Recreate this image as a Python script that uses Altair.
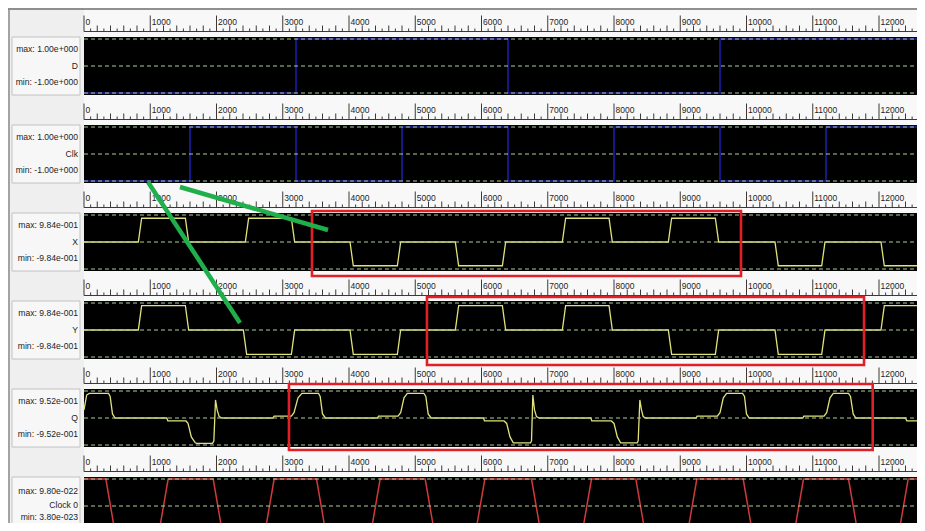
import altair as alt
import pandas as pd

# ---------------- data ----------------
panel_names = ["D", "Clk", "X", "Y", "Q", "Clock 0"]
panel_max_labels = ["max: 1.00e+000", "max: 1.00e+000", "max: 9.84e-001",
                    "max: 9.84e-001", "max: 9.52e-001", "max: 9.80e-022"]
panel_min_labels = ["min: -1.00e+000", "min: -1.00e+000", "min: -9.84e-001",
                    "min: -9.84e-001", "min: -9.52e-001", "min: 3.80e-023"]

T_END = 12694
tick_labels = [0, 1000, 2000, 3000, 4000, 5000, 6000, 7000, 8000, 9000, 10000, 11000, 12000]

# digital signals (step-after), normalised display values (-1 = min, 1 = max)
d_t = [0, 3200, 6400, 9600, T_END]
d_v = [-1, 1, -1, 1, 1]
clk_t = [0, 1600, 3200, 4800, 6400, 8000, 9600, 11200, T_END]
clk_v = [-1, 1, -1, 1, -1, 1, -1, 1, 1]

# analog signals
x_t = [0, 820, 870, 1530, 1580, 2435, 2485, 3130, 3180, 4015, 4065, 4730, 4780, 5605, 5655,
       6315, 6365, 7220, 7270, 7925, 7975, 8820, 8870, 9530, 9580, 10430, 10480, 11135, 11185,
       12030, 12080, T_END]
x_v = [0, 0, .88, .88, 0, 0, .88, .88, 0, 0, -.88, -.88, 0, 0, -.88, -.88, 0, 0, .88, .88,
       0, 0, .88, .88, 0, 0, -.88, -.88, 0, 0, -.88, -.88]

y_t = [0, 820, 870, 1530, 1580, 2405, 2455, 3130, 3180, 4015, 4065, 4730, 4780, 5605, 5655,
       6315, 6365, 7220, 7270, 7925, 7975, 8820, 8870, 9530, 9580, 10430, 10480, 11135, 11185,
       12030, 12080, T_END]
y_v = [0, 0, .9, .9, 0, 0, -.9, -.9, 0, 0, -.9, -.9, 0, 0, .9, .9, 0, 0, .9, .9,
       0, 0, -.9, -.9, 0, 0, -.9, -.9, 0, 0, .9, .9]

q_t = [0, 40, 80, 370, 395, 430, 470, 1250, 1265, 1540, 1570, 1620, 1680, 1700, 1940, 1960,
       1985, 2010, 2040, 2080, 2850, 2870, 3130, 3170, 3230, 3290, 3540, 3565, 3600, 3645,
       4430, 4445, 4740, 4780, 4830, 4880, 5130, 5160, 5195, 5240, 6030, 6045, 6340, 6380,
       6430, 6480, 6740, 6755, 6775, 6800, 6830, 6870, 7650, 7665, 7960, 8000, 8050, 8100,
       8350, 8365, 8390, 8415, 8440, 8480, 9240, 9255, 9560, 9600, 9650, 9700, 9940, 9970,
       10000, 10040, 10850, 10865, 11170, 11210, 11260, 11310, 11540, 11570, 11610, 11650,
       12400, 12420, T_END]
q_v = [0.3, 0.85, 0.91, 0.91, 0.8, 0.15, 0.0, 0.0, -0.11, -0.11, -0.2, -0.7, -0.92, -0.94,
       -0.94, -0.85, 0.67, 0.3, 0.05, 0.0, 0.0, 0.07, 0.07, 0.2, 0.75, 0.91, 0.91, 0.8, 0.15,
       0.0, 0.0, 0.07, 0.07, 0.2, 0.75, 0.91, 0.91, 0.8, 0.15, 0.0, 0.0, -0.11, -0.11, -0.2,
       -0.7, -0.92, -0.92, -0.85, 0.85, 0.3, 0.05, 0.0, 0.0, -0.11, -0.11, -0.2, -0.7, -0.92,
       -0.92, -0.85, 0.67, 0.3, 0.05, 0.0, 0.0, 0.07, 0.07, 0.2, 0.75, 0.91, 0.91, 0.8,
       0.15, 0.0, 0.0, 0.07, 0.07, 0.2, 0.75, 0.91, 0.91, 0.8, 0.15, 0.0,
       0.0, -0.11, -0.11]

clock0_t = [0, 330, 470, 1130, 1270, 1950, 2090, 2730, 2870, 3510, 3650, 4330, 4470, 5150,
            5290, 5910, 6050, 6755, 6895, 7520, 7660, 8330, 8470, 9110, 9250, 9950, 10090,
            10720, 10860, 11540, 11680, 12300, 12440, T_END]
clock0_v = [1, 1, -1, -1, 1, 1, -1, -1, 1, 1, -1, -1, 1, 1, -1, -1, 1, 1, -1, -1, 1, 1,
            -1, -1, 1, 1, -1, -1, 1, 1, -1, -1, 1, 1]

# annotations: red boxes (t start, t end, panel, top value, bottom value)
box_t0 = [3441, 5177, 3094]
box_t1 = [9917, 11774, 11905]
box_panel = [2, 3, 4]
box_vtop = [1.148, 1.222, 1.259]
box_vbot = [-1.26, -1.296, -1.185]

# annotations: green strokes (start t, panel, value) -> (end t, panel, value)
green_t0 = [966, 1449]
green_p0 = [1, 1]
green_v0 = [-1.037, -1.222]
green_t1 = [2355, 3683]
green_p1 = [3, 2]
green_v1 = [0.259, 0.444]

# ---------------- layout helpers ----------------
SLOT = 88 / 27.0   # distance between panel centres, in signal units
PX = 27.0          # pixels per signal unit
W, H = 833, 515
X_MAX = W / 0.06625
Y_TOP = 58 / PX
Y_BOT = -(H - 58) / PX
FONT = "Liberation Sans"


def yg(i, v):
    return v - i * SLOT


xs = alt.Scale(domain=[0, X_MAX], nice=False, zero=False)
ys = alt.Scale(domain=[Y_BOT, Y_TOP], nice=False, zero=False)


def X(f):
    return alt.X(f, type="quantitative", scale=xs, axis=None)


def Y(f):
    return alt.Y(f, type="quantitative", scale=ys, axis=None)


n = len(panel_names)

panels_df = pd.DataFrame({
    "t0": [0] * n, "t1": [T_END] * n,
    "y0": [yg(i, -29 / PX) for i in range(n)],
    "y1": [yg(i, 29 / PX) for i in range(n)],
})

label_rows = []
for i in range(n):
    last = i == n - 1
    label_rows.append({"txt": panel_max_labels[i], "y": yg(i, (15 if last else 17) / PX)})
    label_rows.append({"txt": panel_names[i], "y": yg(i, (1 if last else 0) / PX)})
    label_rows.append({"txt": panel_min_labels[i], "y": yg(i, (-11 if last else -16) / PX)})
labels_df = pd.DataFrame(label_rows)

base_off = 34.5 / PX
baseline_df = pd.DataFrame({
    "t0": [0] * n, "t1": [T_END] * n,
    "y": [yg(i, base_off) for i in range(n)],
})

tick_rows = []
tlabel_rows = []
for i in range(n):
    yb = yg(i, base_off)
    for t in range(0, T_END, 100):
        if t % 1000 == 0:
            ln = 16
        elif t % 200 == 0:
            ln = 6
        else:
            ln = 3
        tick_rows.append({"t": t, "y0": yb, "y1": yb + ln / PX})
    for t in tick_labels:
        tlabel_rows.append({"t": t, "y": yg(i, 41.5 / PX), "txt": str(t)})
ticks_df = pd.DataFrame(tick_rows)
tlabels_df = pd.DataFrame(tlabel_rows)

grid_rows = []
for i in range(n):
    for v in (1, 0, -1):
        grid_rows.append({"t0": 0, "t1": T_END, "y": yg(i, v)})
grid_df = pd.DataFrame(grid_rows)


def sig_df(ts, vs, idx):
    return pd.DataFrame({"t": ts, "y": [yg(idx, v) for v in vs], "k": range(len(ts)), "p": idx})


digital_df = pd.concat([sig_df(d_t, d_v, 0), sig_df(clk_t, clk_v, 1)])
analog_df = pd.concat([sig_df(x_t, x_v, 2), sig_df(y_t, y_v, 3), sig_df(q_t, q_v, 4)])
clock_df = sig_df(clock0_t, clock0_v, 5)

boxes_df = pd.DataFrame({
    "t0": box_t0, "t1": box_t1,
    "y0": [yg(p, v) for p, v in zip(box_panel, box_vbot)],
    "y1": [yg(p, v) for p, v in zip(box_panel, box_vtop)],
})
green_df = pd.DataFrame({
    "t0": green_t0, "t1": green_t1,
    "y0": [yg(p, v) for p, v in zip(green_p0, green_v0)],
    "y1": [yg(p, v) for p, v in zip(green_p1, green_v1)],
})

# ---------------- layers ----------------
panels = alt.Chart(panels_df).mark_rect(color="#000000").encode(
    x=X("t0"), x2="t1", y=Y("y0"), y2="y1")

label_boxes = alt.Chart(panels_df).mark_rect(
    fill="#f7f7f7", stroke="#c2c2c2", strokeWidth=1).encode(
    x=alt.value(-72), x2=alt.value(-4), y=Y("y0"), y2="y1")

label_text = alt.Chart(labels_df).mark_text(
    align="right", baseline="middle", font=FONT, fontSize=8.6, color="#1e1e1e").encode(
    x=alt.value(-6), y=Y("y"), text="txt:N")

baselines = alt.Chart(baseline_df).mark_rule(color="#3a3a3a", strokeWidth=1).encode(
    x=X("t0"), x2="t1", y=Y("y"))

ticks = alt.Chart(ticks_df).mark_rule(color="#3a3a3a", strokeWidth=1).encode(
    x=X("t"), y=Y("y0"), y2="y1")

tick_text = alt.Chart(tlabels_df).mark_text(
    align="left", baseline="alphabetic", dx=1.5, font=FONT, fontSize=8.5, color="#1e1e1e").encode(
    x=X("t"), y=Y("y"), text="txt:N")

digital = alt.Chart(digital_df).mark_line(
    color="#1c1ca6", strokeWidth=1.6, interpolate="step-after").encode(
    x=X("t"), y=Y("y"), detail="p:N", order="k:Q")

analog = alt.Chart(analog_df).mark_line(color="#e2e27c", strokeWidth=1.3).encode(
    x=X("t"), y=Y("y"), detail="p:N", order="k:Q")

clock = alt.Chart(clock_df).mark_line(color="#d03a3a", strokeWidth=1.5).encode(
    x=X("t"), y=Y("y"), order="k:Q")

grid = alt.Chart(grid_df).mark_rule(
    color="#a9cf9c", strokeWidth=1, strokeDash=[4, 3]).encode(
    x=X("t0"), x2="t1", y=Y("y"))

boxes = alt.Chart(boxes_df).mark_rect(
    fillOpacity=0, stroke="#e01f26", strokeWidth=2.6).encode(
    x=X("t0"), x2="t1", y=Y("y0"), y2="y1")

green = alt.Chart(green_df).mark_rule(color="#1faf4b", strokeWidth=4.5).encode(
    x=X("t0"), x2="t1", y=Y("y0"), y2="y1")

frame_top = alt.Chart(pd.DataFrame({"a": [0]})).mark_rule(color="#6e6e6e", strokeWidth=1.5).encode(
    x=alt.value(-76), x2=alt.value(W), y=alt.value(1))
frame_left = alt.Chart(pd.DataFrame({"a": [0]})).mark_rule(color="#8a8a8a", strokeWidth=1.5).encode(
    x=alt.value(-75), y=alt.value(1), y2=alt.value(H))

chart = alt.layer(
    panels, label_boxes, label_text, baselines, ticks, tick_text,
    digital, analog, clock, grid, boxes, green, frame_top, frame_left
).properties(
    width=W, height=H,
    autosize=alt.AutoSizeParams(type="none"),
    padding={"left": 76, "top": 0, "right": 0, "bottom": 0},
    background="#efefef",
).configure_view(fill="#f8f8f8", strokeWidth=0)

chart.save("out.html", embed_options={"renderer": "svg", "actions": False})
